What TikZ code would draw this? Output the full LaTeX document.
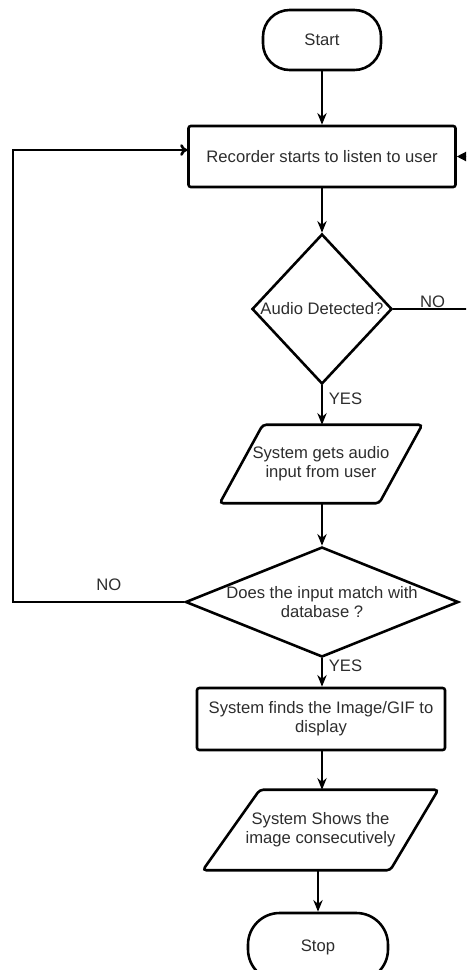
\documentclass[tikz,border=0pt]{standalone}
\usepackage{fontspec}
\setmainfont{Liberation Sans}
\usepackage{tikz}
\definecolor{flowtext}{RGB}{45, 45, 45}
\usetikzlibrary{shapes,arrows.meta,positioning}

\begin{document}
\begin{tikzpicture}[x=0.03cm, y=-0.03cm,
    font=\fontsize{14.2}{16.5}\selectfont, text=flowtext,
    term/.style={draw, line width=2.2pt, rounded corners=0.8cm, minimum width=3.54cm, minimum height=1.8cm},
    procbox/.style={draw, line width=2.2pt, rounded corners=2pt, align=center, inner sep=0pt},
    decision/.style={draw, diamond, line width=2.2pt, inner sep=0pt},
    iotext/.style={align=center, inner sep=0pt},
    ioline/.style={line width=2.2pt, rounded corners=3pt},
    flow/.style={-{Stealth[length=10pt, width=8pt]}, line width=1.1pt},
    loopline/.style={line width=2.2pt}]
    \useasboundingbox (0,0) rectangle (466,970);
    \clip (0,0) rectangle (466,970);
    \node[term] (start) at (322,40) {Start};
    \node[procbox, minimum width=8.01cm, minimum height=1.83cm] (record) at (322,156.5) {Recorder starts to listen to user};
    \node[decision, minimum width=4.2cm, minimum height=4.5cm, label=center:{Audio Detected?}] (detect) at (322,309) {};
    \node[iotext, minimum width=6.06cm, minimum height=2.34cm] (getaudio) at (321,464) {System gets audio\\input from user};
    \draw[ioline] ([xshift=1.29cm]getaudio.north west) -- (getaudio.north east)
        -- ([xshift=-1.29cm]getaudio.south east) -- (getaudio.south west) -- cycle;
    \node[decision, minimum width=8.19cm, minimum height=3.3cm,
        label={[align=center]center:Does the input match with\\database ?}] (match) at (322,602) {};
    \node[procbox, minimum width=7.44cm, minimum height=1.86cm] (findimg) at (321,719) {System finds the Image/GIF to\\display};
    \node[iotext, minimum width=7.05cm, minimum height=2.4cm] (showimg) at (320.5,830) {System Shows the\\image consecutively};
    \draw[ioline] ([xshift=1.71cm]showimg.north west) -- (showimg.north east)
        -- ([xshift=-1.44cm]showimg.south east) -- (showimg.south west) -- cycle;
    \node[term, minimum width=4.2cm, minimum height=2.04cm, rounded corners=0.95cm] (stop) at (318,947) {Stop};

    \draw[flow] (start) -- (record);
    \draw[flow] (record) -- (detect);
    \draw[flow] (detect) -- node[pos=0.35, right, xshift=2pt] {YES} (detect.south |- getaudio.north);
    \draw[flow] (detect.south |- getaudio.south) -- (match);
    \draw[flow] (match) -- node[pos=0.25, right, xshift=2pt] {YES} (match.south |- findimg.north);
    \draw[flow] (match.south |- findimg.south) -- (match.south |- showimg.north);
    \draw[flow] (stop.north |- showimg.south) -- (stop);
    % no audio: back to the recorder on the right
    \draw[line width=1.1pt, -{Triangle[length=8pt, width=8pt]}] (detect.east) -- node[above, inner sep=1pt] {NO} (472,309) |- (record.east);
    % no match: back to the recorder on the left
    \draw[loopline, -{To[length=6pt, width=10pt]}] (match.west) -- node[pos=0.44, above=5pt] {NO} (13,602) -- (13,150) -- (record.west |- 13,150);
\end{tikzpicture}
\end{document}
